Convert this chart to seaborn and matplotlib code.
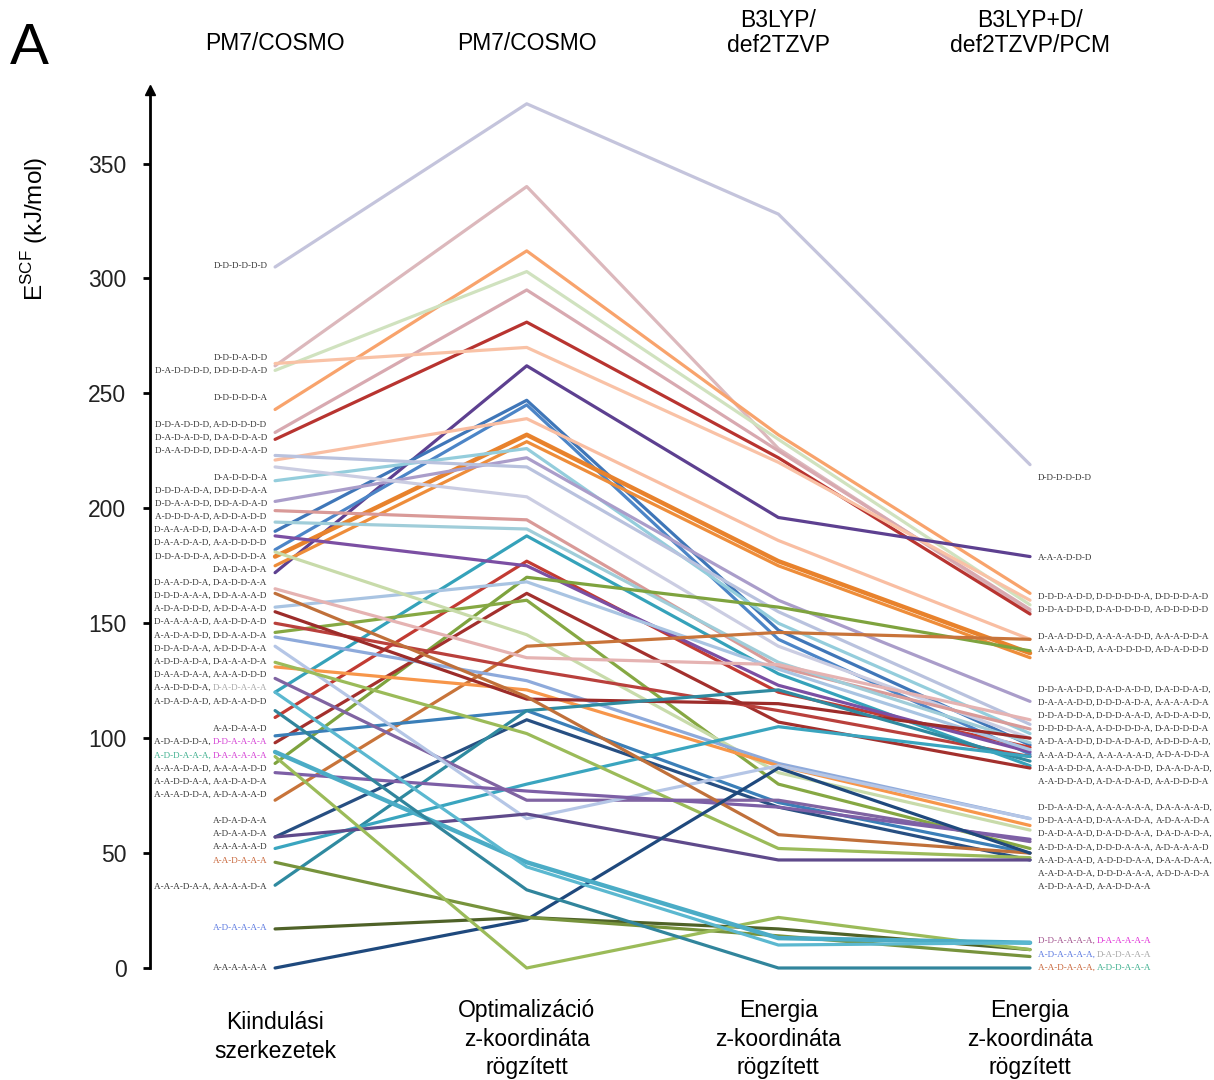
import matplotlib
matplotlib.use("Agg")
import matplotlib.pyplot as plt
import seaborn as sns
import pandas as pd

# Oszlopok (lépések) és a fejlécek
lepesek = ["Kiindulási\nszerkezetek", "Optimalizáció\nz-koordináta\nrögzített",
           "Energia\nz-koordináta\nrögzített", "Energia\nz-koordináta\nrögzített"]
modszerek = ["PM7/COSMO", "PM7/COSMO", "B3LYP/\ndef2TZVP", "B3LYP+D/\ndef2TZVP/PCM"]

# E_SCF értékek (kJ/mol) szerkezetenként, a négy lépésben
kiindulasi = [305, 262, 243, 260, 233, 230, 263, 172, 190, 182, 221, 179, 175, 212, 203, 223,
              218, 199, 194, 120, 109, 188, 89, 157, 98, 146, 181, 73, 165, 150, 144, 131,
              155, 101, 57, 36, 52, 126, 140, 133, 57, 85, 163, 0, 17, 46, 92, 94, 120, 112]
optimalizacio = [376, 340, 312, 303, 295, 281, 270, 262, 247, 245, 239, 232, 229, 226, 222, 218,
                 205, 195, 191, 188, 177, 175, 170, 168, 163, 160, 145, 140, 135, 130, 125, 121,
                 117, 112, 108, 112, 80, 73, 65, 102, 67, 77, 118, 21, 22, 22, 0, 46, 44, 34]
energia_b3lyp = [328, 226, 232, 230, 225, 222, 220, 196, 147, 143, 186, 177, 175, 150, 160, 155,
                 140, 131, 133, 128, 120, 123, 157, 130, 107, 80, 85, 146, 132, 112, 89, 88,
                 115, 72, 70, 121, 105, 73, 88, 52, 47, 70, 58, 87, 17, 14, 22, 13, 10, 0]
energia_pcm = [219, 155, 163, 158, 156, 154, 160, 179, 97, 93, 143, 137, 135, 102, 116, 106,
               100, 104, 98, 88, 96, 94, 138, 95, 87, 52, 60, 143, 108, 92, 65, 62,
               100, 50, 47, 90, 92, 55, 65, 48, 47, 56, 50, 50, 8, 5, 8, 11, 11, 0]

vonal_szinek = ["#c4c4dc", "#dcb8bc", "#f8a36c", "#d0e2bf", "#d8a9b0", "#b83430", "#f9c2a6", "#5d4090",
                "#3f76b8", "#4c85c7", "#f9bea2", "#e8822c", "#ee8d3a", "#94cddc", "#aa9dca", "#b9c2de",
                "#cbcde2", "#d99a98", "#a0cdd9", "#35a2ba", "#c23b33", "#7b4fa3", "#7ea33e", "#a9c4e2",
                "#a3302d", "#86a843", "#c8dbaa", "#c8743a", "#e5b3b2", "#b9403c", "#8eaadb", "#f7964a",
                "#9c2c2a", "#3b7fb8", "#274f82", "#2f8aa0", "#3aa5bf", "#8064a2", "#b5c6e6", "#9bbb59",
                "#5f4a8b", "#7d5fa6", "#c0703a", "#1f497d", "#4f6228", "#77933c", "#9bbb59", "#4bacc6",
                "#5bb8d0", "#31859c"]
vastag = {11, 47}

# Bal oldali címkék (kiindulási szerkezetek)
bal_cimkek = ["D-D-D-D-D-D", "D-D-D-A-D-D", "D-A-D-D-D-D, D-D-D-D-A-D", "D-D-D-D-D-A",
              "D-D-A-D-D-D, A-D-D-D-D-D", "D-A-D-A-D-D, D-A-D-D-A-D", "D-A-A-D-D-D, D-D-D-A-A-D",
              "D-A-D-D-D-A", "D-D-D-A-D-A, D-D-D-D-A-A", "D-D-A-A-D-D, D-D-A-D-A-D",
              "A-D-D-D-A-D, A-D-D-A-D-D", "D-A-A-A-D-D, D-A-D-A-A-D", "D-A-A-D-A-D, A-A-D-D-D-D",
              "D-D-A-D-D-A, A-D-D-D-D-A", "D-A-D-A-D-A", "D-A-A-D-D-A, D-A-D-D-A-A",
              "D-D-D-A-A-A, D-D-A-A-A-D", "A-D-A-D-D-D, A-D-D-A-A-D", "D-A-A-A-A-D, A-A-D-D-A-D",
              "A-A-D-A-D-D, D-D-A-A-D-A", "D-D-A-D-A-A, A-D-D-D-A-A", "A-D-D-A-D-A, D-A-A-A-D-A",
              "D-A-A-D-A-A, A-A-A-D-D-D", "A-A-D-D-D-A, D-A-D-A-A-A", "A-D-A-D-A-D, A-D-A-A-D-D",
              "A-A-D-A-A-D", "A-D-A-D-D-A, D-D-A-A-A-A", "A-D-D-A-A-A, D-A-A-A-A-A",
              "A-A-A-D-A-D, A-A-A-A-D-D", "A-A-D-D-A-A, A-A-D-A-D-A", "A-A-A-D-D-A, A-D-A-A-A-D",
              "A-D-A-D-A-A", "A-D-A-A-D-A", "A-A-A-A-A-D", "A-A-D-A-A-A",
              "A-A-A-D-A-A, A-A-A-A-D-A", "A-D-A-A-A-A", "A-A-A-A-A-A"]
bal_cimke_y = [305.6, 265.6, 259.9, 248.1, 236.4, 230.7, 225.1, 213.3, 207.7, 202.0, 196.3, 190.7,
               185.0, 178.9, 173.3, 167.6, 162.0, 156.3, 150.6, 144.5, 138.9, 133.2, 127.6, 121.9,
               115.8, 104.0, 98.4, 92.3, 86.6, 81.0, 75.3, 64.0, 58.3, 52.7, 46.6, 35.3, 17.4, 0.0]

# Jobb oldali címkék (B3LYP+D végeredmény)
jobb_cimkek = ["D-D-D-D-D-D", "A-A-A-D-D-D",
               "D-D-D-A-D-D, D-D-D-D-D-A, D-D-D-D-A-D", "D-D-A-D-D-D, D-A-D-D-D-D, A-D-D-D-D-D",
               "D-A-A-D-D-D, A-A-A-A-D-D, A-A-A-D-D-A", "A-A-A-D-A-D, A-A-D-D-D-D, A-D-A-D-D-D",
               "D-D-A-A-D-D, D-A-D-A-D-D, D-A-D-D-A-D,", "D-A-A-A-D-D, D-D-D-A-D-A, A-A-A-A-D-A",
               "D-D-A-D-D-A, D-D-D-A-A-D, A-D-D-A-D-D,", "D-D-D-D-A-A, A-D-D-D-D-A, D-A-D-D-D-A",
               "A-D-A-A-D-D, D-D-A-D-A-D, A-D-D-D-A-D,", "A-A-A-D-A-A, A-A-A-A-A-D, A-D-A-D-D-A",
               "D-A-A-D-D-A, A-A-D-A-D-D, D-A-A-D-A-D,", "A-A-D-D-A-D, A-D-A-D-A-D, A-A-D-D-D-A",
               "D-D-A-A-D-A, A-A-A-A-A-A, D-A-A-A-A-D,", "D-D-A-A-A-D, D-A-A-A-D-A, A-D-A-A-D-A",
               "D-A-D-A-A-D, D-A-D-D-A-A, D-A-D-A-D-A,", "A-D-D-A-D-A, D-D-D-A-A-A, A-D-A-A-A-D",
               "A-A-D-A-A-D, A-D-D-D-A-A, D-A-A-D-A-A,", "A-A-D-A-D-A, D-D-D-A-A-A, A-D-D-A-D-A",
               "A-D-D-A-A-D, A-A-D-D-A-A",
               "D-D-A-A-A-A, D-A-A-A-A-A", "A-D-A-A-A-A, D-A-D-A-A-A", "A-A-D-A-A-A, A-D-D-A-A-A"]
jobb_cimke_y = [213.3, 178.5, 161.5, 155.9, 144.1, 138.4,
                121.0, 115.3, 109.6, 103.9, 98.2, 92.5, 86.8, 81.1,
                69.7, 63.9, 58.2, 52.4, 46.7, 40.9, 35.2,
                11.8, 5.7, 0.0]

kiemelt_bal = {"D-A-D-A-A-A": "#a8a8a8", "D-D-A-A-A-A": "#d43fd4", "A-D-D-A-A-A": "#3fb08f",
               "D-A-A-A-A-A": "#d43fd4", "A-A-D-A-A-A": "#c8663a", "A-D-A-A-A-A": "#5a78e0"}
kiemelt_jobb = {"D-D-A-A-A-A": "#a0508c", "D-A-A-A-A-A": "#e032d8", "A-D-A-A-A-A": "#5a78e0",
                "D-A-D-A-A-A": "#a8a8a8", "A-A-D-A-A-A": "#c8663a", "A-D-D-A-A-A": "#3fb08f"}

sns.set_theme(style="white")
plt.rcParams['font.family'] = ['Liberation Sans', 'DejaVu Sans']
plt.rcParams['text.color'] = 'black'

fig = plt.figure(figsize=(12.14, 10.8), dpi=100)
ax = fig.add_axes([150 / 1214, 112 / 1080, 1 - 150 / 1214, 878 / 1080])

oszlopok = [kiindulasi, optimalizacio, energia_b3lyp, energia_pcm]
for i, szin in enumerate(vonal_szinek):
    df = pd.DataFrame({"lepes": range(4), "E": [o[i] for o in oszlopok]})
    sns.lineplot(data=df, x="lepes", y="E", color=szin, lw=3.2 if i in vastag else 2.3,
                 sort=False, ax=ax, legend=False, clip_on=False)

ax.set_xlim(-0.497, 3.731)
ax.set_ylim(0, 382)
ax.set_xlabel("")
ax.set_ylabel("")
ax.set_xticks([])
ax.set_yticks(range(0, 351, 50))
for s in ["top", "right", "bottom"]:
    ax.spines[s].set_visible(False)
ax.spines["left"].set_color("black")
ax.spines["left"].set_linewidth(2)
ax.tick_params(axis="y", left=True, length=5, width=2, color="black", pad=12,
               labelsize=16.5, labelcolor="#222222")
ax.plot(0, 1, marker="^", ms=7, color="black", transform=ax.transAxes, clip_on=False)


def cimke_sor(szoveg, x, y, jobbra, kiemelt):
    reszek = szoveg.split(", ")
    reszek = [r + (", " if k < len(reszek) - 1 else "") for k, r in enumerate(reszek)]
    kw = dict(fontsize=6.6, family="Liberation Serif")
    elozo = None
    sorrend = reversed(reszek) if jobbra else reszek
    for r in sorrend:
        szin = kiemelt.get(r.strip(", "), "#333333")
        if elozo is None:
            elozo = ax.text(x, y, r, ha="right" if jobbra else "left", va="center",
                            color=szin, **kw)
        elif jobbra:
            elozo = ax.annotate(r, xy=(0, 0), xycoords=elozo, ha="right", va="bottom",
                                color=szin, **kw)
        else:
            elozo = ax.annotate(r, xy=(1, 0), xycoords=elozo, ha="left", va="bottom",
                                color=szin, **kw)


for szoveg, y in zip(bal_cimkek, bal_cimke_y):
    cimke_sor(szoveg, -0.03, y, True, kiemelt_bal)
for szoveg, y in zip(jobb_cimkek, jobb_cimke_y):
    cimke_sor(szoveg, 3.03, y, False, kiemelt_jobb)

# fejlécek és alsó feliratok
for i in range(4):
    xf = (275 + i * 251.67) / 1214
    yf = 1 - (43 if "\n" not in modszerek[i] else 33) / 1080
    fig.text(xf, yf, modszerek[i], ha="center", va="center", fontsize=16.5, linespacing=1.15)
    yb = 1 - (1037 if lepesek[i].count("\n") == 1 else 1039) / 1080
    fig.text(xf, yb, lepesek[i], ha="center", va="center", fontsize=16.5, linespacing=1.3)

fig.text(35 / 1214, 1 - 229 / 1080, r"E$^{\mathregular{SCF}}$ (kJ/mol)", rotation=90,
         ha="center", va="center", fontsize=17.5)
fig.text(10 / 1214, 1 - 49 / 1080, "A", ha="left", va="center", fontsize=42)

fig.savefig("out.png", dpi=100)
